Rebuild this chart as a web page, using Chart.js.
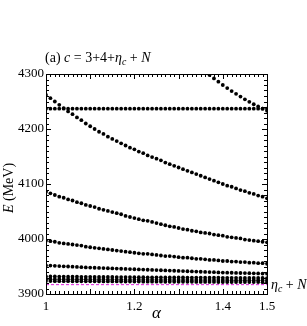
<!DOCTYPE html>
<html>
<head>
<meta charset="utf-8">
<script src="https://cdn.jsdelivr.net/npm/chart.js@4/dist/chart.umd.min.js"></script>
<style>
  html, body { margin: 0; padding: 0; background: #fff; }
  canvas { display: block; }
</style>
</head>
<body>
<canvas id="levels" width="307" height="326"></canvas>
<script>
// alpha grid (x values of every computed point)
const alphas = [1.00, 1.01, 1.02, 1.03, 1.04, 1.05, 1.06, 1.07, 1.08, 1.09, 1.10,
    1.11, 1.12, 1.13, 1.14, 1.15, 1.16, 1.17, 1.18, 1.19, 1.20,
    1.21, 1.22, 1.23, 1.24, 1.25, 1.26, 1.27, 1.28, 1.29, 1.30,
    1.31, 1.32, 1.33, 1.34, 1.35, 1.36, 1.37, 1.38, 1.39, 1.40,
    1.41, 1.42, 1.43, 1.44, 1.45, 1.46, 1.47, 1.48, 1.49, 1.50];

// top branch only enters the window near alpha = 1.36
const topAlphas = [1.35, 1.36, 1.37, 1.38, 1.39, 1.40, 1.41, 1.42, 1.43, 1.44, 1.45, 1.46, 1.47, 1.48, 1.49, 1.50];
const topLevel = [4310, 4304, 4298, 4292, 4286, 4280, 4274.5, 4269, 4264, 4259, 4254, 4249.5, 4245, 4241, 4237, 4233];

const flatLevel = [4237, 4237, 4237, 4237, 4237, 4237, 4237, 4237, 4237, 4237, 4237,
    4237, 4237, 4237, 4237, 4237, 4237, 4237, 4237, 4237, 4237,
    4237, 4237, 4237, 4237, 4237, 4237, 4237, 4237, 4237, 4237,
    4237, 4237, 4237, 4237, 4237, 4237, 4237, 4237, 4237, 4237,
    4237, 4237, 4237, 4237, 4237, 4237, 4237, 4237, 4237, 4237];

const level1 = [4262, 4256, 4250, 4244, 4238, 4232, 4227, 4221, 4216, 4210, 4205,
    4200, 4195, 4191, 4186, 4182, 4178, 4174, 4170, 4166, 4163,
    4159, 4156, 4152, 4149, 4146, 4143, 4139, 4136, 4133, 4130,
    4127, 4124, 4121, 4118, 4115, 4112, 4109, 4106, 4103, 4100,
    4097, 4095, 4092, 4089, 4087, 4084, 4082, 4079, 4077, 4074];

const level2 = [4086, 4083, 4080, 4077, 4075, 4072, 4070, 4067, 4065, 4062, 4060,
    4058, 4055, 4053, 4051, 4049, 4047, 4045, 4042, 4040, 4038,
    4036, 4034, 4033, 4031, 4029, 4027, 4025, 4023, 4022, 4020,
    4018, 4017, 4015, 4014, 4012, 4011, 4010, 4008, 4007, 4006,
    4004, 4003, 4002, 4001, 3999, 3998, 3997, 3996, 3995, 3994];

const level3 = [3997, 3996, 3995, 3993, 3992, 3991, 3990, 3989, 3988, 3986, 3985,
    3984, 3983, 3982, 3981, 3980, 3979, 3978, 3977, 3976, 3975,
    3974, 3973, 3973, 3972, 3971, 3970, 3969, 3969, 3968, 3967,
    3966, 3966, 3965, 3964, 3964, 3963, 3962, 3962, 3961, 3960,
    3960, 3959, 3959, 3958, 3958, 3957, 3957, 3956, 3956, 3955];

const level4 = [3952, 3951.6, 3951.2, 3950.8, 3950.4, 3950, 3949.6, 3949.2, 3948.8, 3948.4, 3948,
    3947.7, 3947.4, 3947.1, 3946.8, 3946.5, 3946.2, 3945.9, 3945.6, 3945.3, 3945,
    3944.7, 3944.4, 3944.1, 3943.8, 3943.5, 3943.2, 3942.9, 3942.6, 3942.3, 3942,
    3941.7, 3941.4, 3941.1, 3940.8, 3940.5, 3940.2, 3939.9, 3939.6, 3939.3, 3939,
    3938.8, 3938.6, 3938.4, 3938.2, 3938, 3937.8, 3937.6, 3937.4, 3937.2, 3937];

const level5 = [3932.0, 3931.9, 3931.8, 3931.7, 3931.6, 3931.5, 3931.5, 3931.4, 3931.3, 3931.3, 3931.2,
    3931.1, 3931.1, 3931.0, 3931.0, 3930.9, 3930.8, 3930.8, 3930.7, 3930.7, 3930.6,
    3930.5, 3930.5, 3930.4, 3930.4, 3930.3, 3930.3, 3930.2, 3930.1, 3930.1, 3930.0,
    3930.0, 3929.9, 3929.9, 3929.8, 3929.8, 3929.7, 3929.7, 3929.6, 3929.6, 3929.5,
    3929.5, 3929.4, 3929.4, 3929.3, 3929.3, 3929.2, 3929.2, 3929.1, 3929.1, 3929.0];

const level6 = [3927.0, 3927.0, 3926.9, 3926.9, 3926.8, 3926.8, 3926.7, 3926.7, 3926.6, 3926.6, 3926.5,
    3926.5, 3926.4, 3926.4, 3926.3, 3926.3, 3926.2, 3926.2, 3926.1, 3926.1, 3926.0,
    3926.0, 3926.0, 3925.9, 3925.9, 3925.8, 3925.8, 3925.7, 3925.7, 3925.6, 3925.6,
    3925.6, 3925.5, 3925.5, 3925.5, 3925.4, 3925.4, 3925.4, 3925.3, 3925.3, 3925.3,
    3925.3, 3925.2, 3925.2, 3925.2, 3925.1, 3925.1, 3925.1, 3925.0, 3925.0, 3925.0];

const level7 = [3923.5, 3923.5, 3923.4, 3923.4, 3923.3, 3923.3, 3923.2, 3923.2, 3923.1, 3923.1, 3923.0,
    3923.0, 3922.9, 3922.9, 3922.9, 3922.8, 3922.8, 3922.7, 3922.7, 3922.6, 3922.6,
    3922.6, 3922.5, 3922.5, 3922.4, 3922.4, 3922.4, 3922.3, 3922.3, 3922.2, 3922.2,
    3922.2, 3922.1, 3922.1, 3922.0, 3922.0, 3922.0, 3921.9, 3921.9, 3921.8, 3921.8,
    3921.8, 3921.8, 3921.7, 3921.7, 3921.7, 3921.6, 3921.6, 3921.6, 3921.5, 3921.5];

// eta_c + N threshold (dashed line)
const thresholdAlpha = [1.0, 1.5];
const thresholdEnergy = [3917, 3917];

const xTickLabels = [1, 1.2, 1.4, 1.5];
const yTickLabels = [3900, 4000, 4100, 4200, 4300];

const serif = '"Liberation Serif", "DejaVu Serif", serif';

function zip(xs, ys) {
    return xs.map((x, i) => ({ x: x, y: ys[i] }));
}

function dotSet(xs, ys) {
    return {
        data: zip(xs, ys),
        showLine: false,
        pointRadius: 1.9,
        pointBorderWidth: 0,
        pointBackgroundColor: '#000',
        pointBorderColor: '#000',
        order: 1
    };
}

// inward ticks on all four sides + frame, plus the text bits
const frameTicks = {
    id: 'frameTicks',
    afterDatasetsDraw(chart) {
        const { ctx, chartArea: a, scales: { x, y } } = chart;
        ctx.save();
        ctx.strokeStyle = '#000';
        ctx.lineWidth = 1;
        ctx.beginPath();
        for (let i = 0; i <= 50; i++) {
            const px = Math.round(x.getPixelForValue(1 + i / 100)) + 0.5;
            const len = i % 10 === 0 ? 5 : 3;
            ctx.moveTo(px, a.bottom); ctx.lineTo(px, a.bottom - len);
            ctx.moveTo(px, a.top); ctx.lineTo(px, a.top + len);
        }
        for (let e = 3900; e <= 4300; e += 10) {
            const py = Math.round(y.getPixelForValue(e)) + 0.5;
            const len = e % 100 === 0 ? 5 : 3;
            ctx.moveTo(a.left, py); ctx.lineTo(a.left + len, py);
            ctx.moveTo(a.right, py); ctx.lineTo(a.right - len, py);
        }
        ctx.stroke();
        ctx.strokeRect(Math.round(a.left) + 0.5, Math.round(a.top) + 0.5,
            Math.round(a.right - a.left), Math.round(a.bottom - a.top));
        ctx.restore();
    },
    afterDraw(chart) {
        const { ctx, chartArea: a, scales: { y } } = chart;
        ctx.save();
        ctx.fillStyle = '#000';
        ctx.textBaseline = 'alphabetic';

        // write a run of [text, italic, sizeScale, dy] parts
        function run(parts, x0, y0, size) {
            let cx = x0;
            parts.forEach(p => {
                const s = size * (p[2] || 1);
                ctx.font = (p[1] ? 'italic ' : '') + s + 'px ' + serif;
                ctx.fillText(p[0], cx, y0 + (p[3] || 0));
                cx += ctx.measureText(p[0]).width;
            });
        }

        // panel title
        run([['(a) ', false], ['c', true], [' = 3+4+', false], ['η', true], ['c', true, 0.7, 3], [' + ', false], ['N', true]],
            a.left - 1, 62, 14);

        // threshold label on the right
        const ty = y.getPixelForValue(thresholdEnergy[0]) + 4;
        run([['η', true], ['c', true, 0.7, 3], [' + ', false], ['N', true]], a.right + 4, ty, 14);

        // x axis title
        ctx.font = 'italic 17px ' + serif;
        ctx.textAlign = 'center';
        ctx.fillText('α', (a.left + a.right) / 2, 318);

        // y axis title, rotated
        ctx.save();
        ctx.translate(13, (a.top + a.bottom) / 2 + 4);
        ctx.rotate(-Math.PI / 2);
        ctx.textAlign = 'left';
        ctx.font = 'italic 14px ' + serif;
        const w1 = ctx.measureText('E').width;
        ctx.font = '14px ' + serif;
        const w2 = ctx.measureText(' (MeV)').width;
        run([['E', true], [' (MeV)', false]], -(w1 + w2) / 2, 0, 14);
        ctx.restore();

        ctx.restore();
    }
};

const datasets = [
    dotSet(topAlphas, topLevel),
    dotSet(alphas, flatLevel),
    dotSet(alphas, level1),
    dotSet(alphas, level2),
    dotSet(alphas, level3),
    dotSet(alphas, level4),
    dotSet(alphas, level5),
    dotSet(alphas, level6),
    dotSet(alphas, level7),
    {
        data: zip(thresholdAlpha, thresholdEnergy),
        showLine: true,
        borderColor: '#e020e0',
        borderWidth: 1,
        borderDash: [3, 2],
        pointRadius: 0,
        order: 2
    }
];

new Chart(document.getElementById('levels').getContext('2d'), {
    type: 'scatter',
    data: { datasets: datasets },
    plugins: [frameTicks],
    options: {
        responsive: false,
        animation: false,
        layout: { padding: { left: 0, top: 74, right: 40, bottom: 0 } },
        plugins: { legend: { display: false }, tooltip: { enabled: false } },
        scales: {
            x: {
                type: 'linear',
                min: 1,
                max: 1.5,
                afterBuildTicks: s => { s.ticks = xTickLabels.map(v => ({ value: v })); },
                afterFit: s => { s.height = 32; },
                grid: { display: false, drawTicks: false, tickLength: 0 },
                border: { display: false },
                ticks: {
                    color: '#000',
                    font: { family: serif, size: 13 },
                    padding: 5,
                    maxRotation: 0,
                    autoSkip: false,
                    callback: v => String(v)
                }
            },
            y: {
                type: 'linear',
                min: 3900,
                max: 4300,
                afterBuildTicks: s => { s.ticks = yTickLabels.map(v => ({ value: v })); },
                afterFit: s => { s.width = 46; },
                grid: { display: false, drawTicks: false, tickLength: 0 },
                border: { display: false },
                ticks: {
                    color: '#000',
                    font: { family: serif, size: 13 },
                    padding: 2,
                    autoSkip: false,
                    callback: v => String(v)
                }
            }
        }
    }
});
</script>
</body>
</html>
